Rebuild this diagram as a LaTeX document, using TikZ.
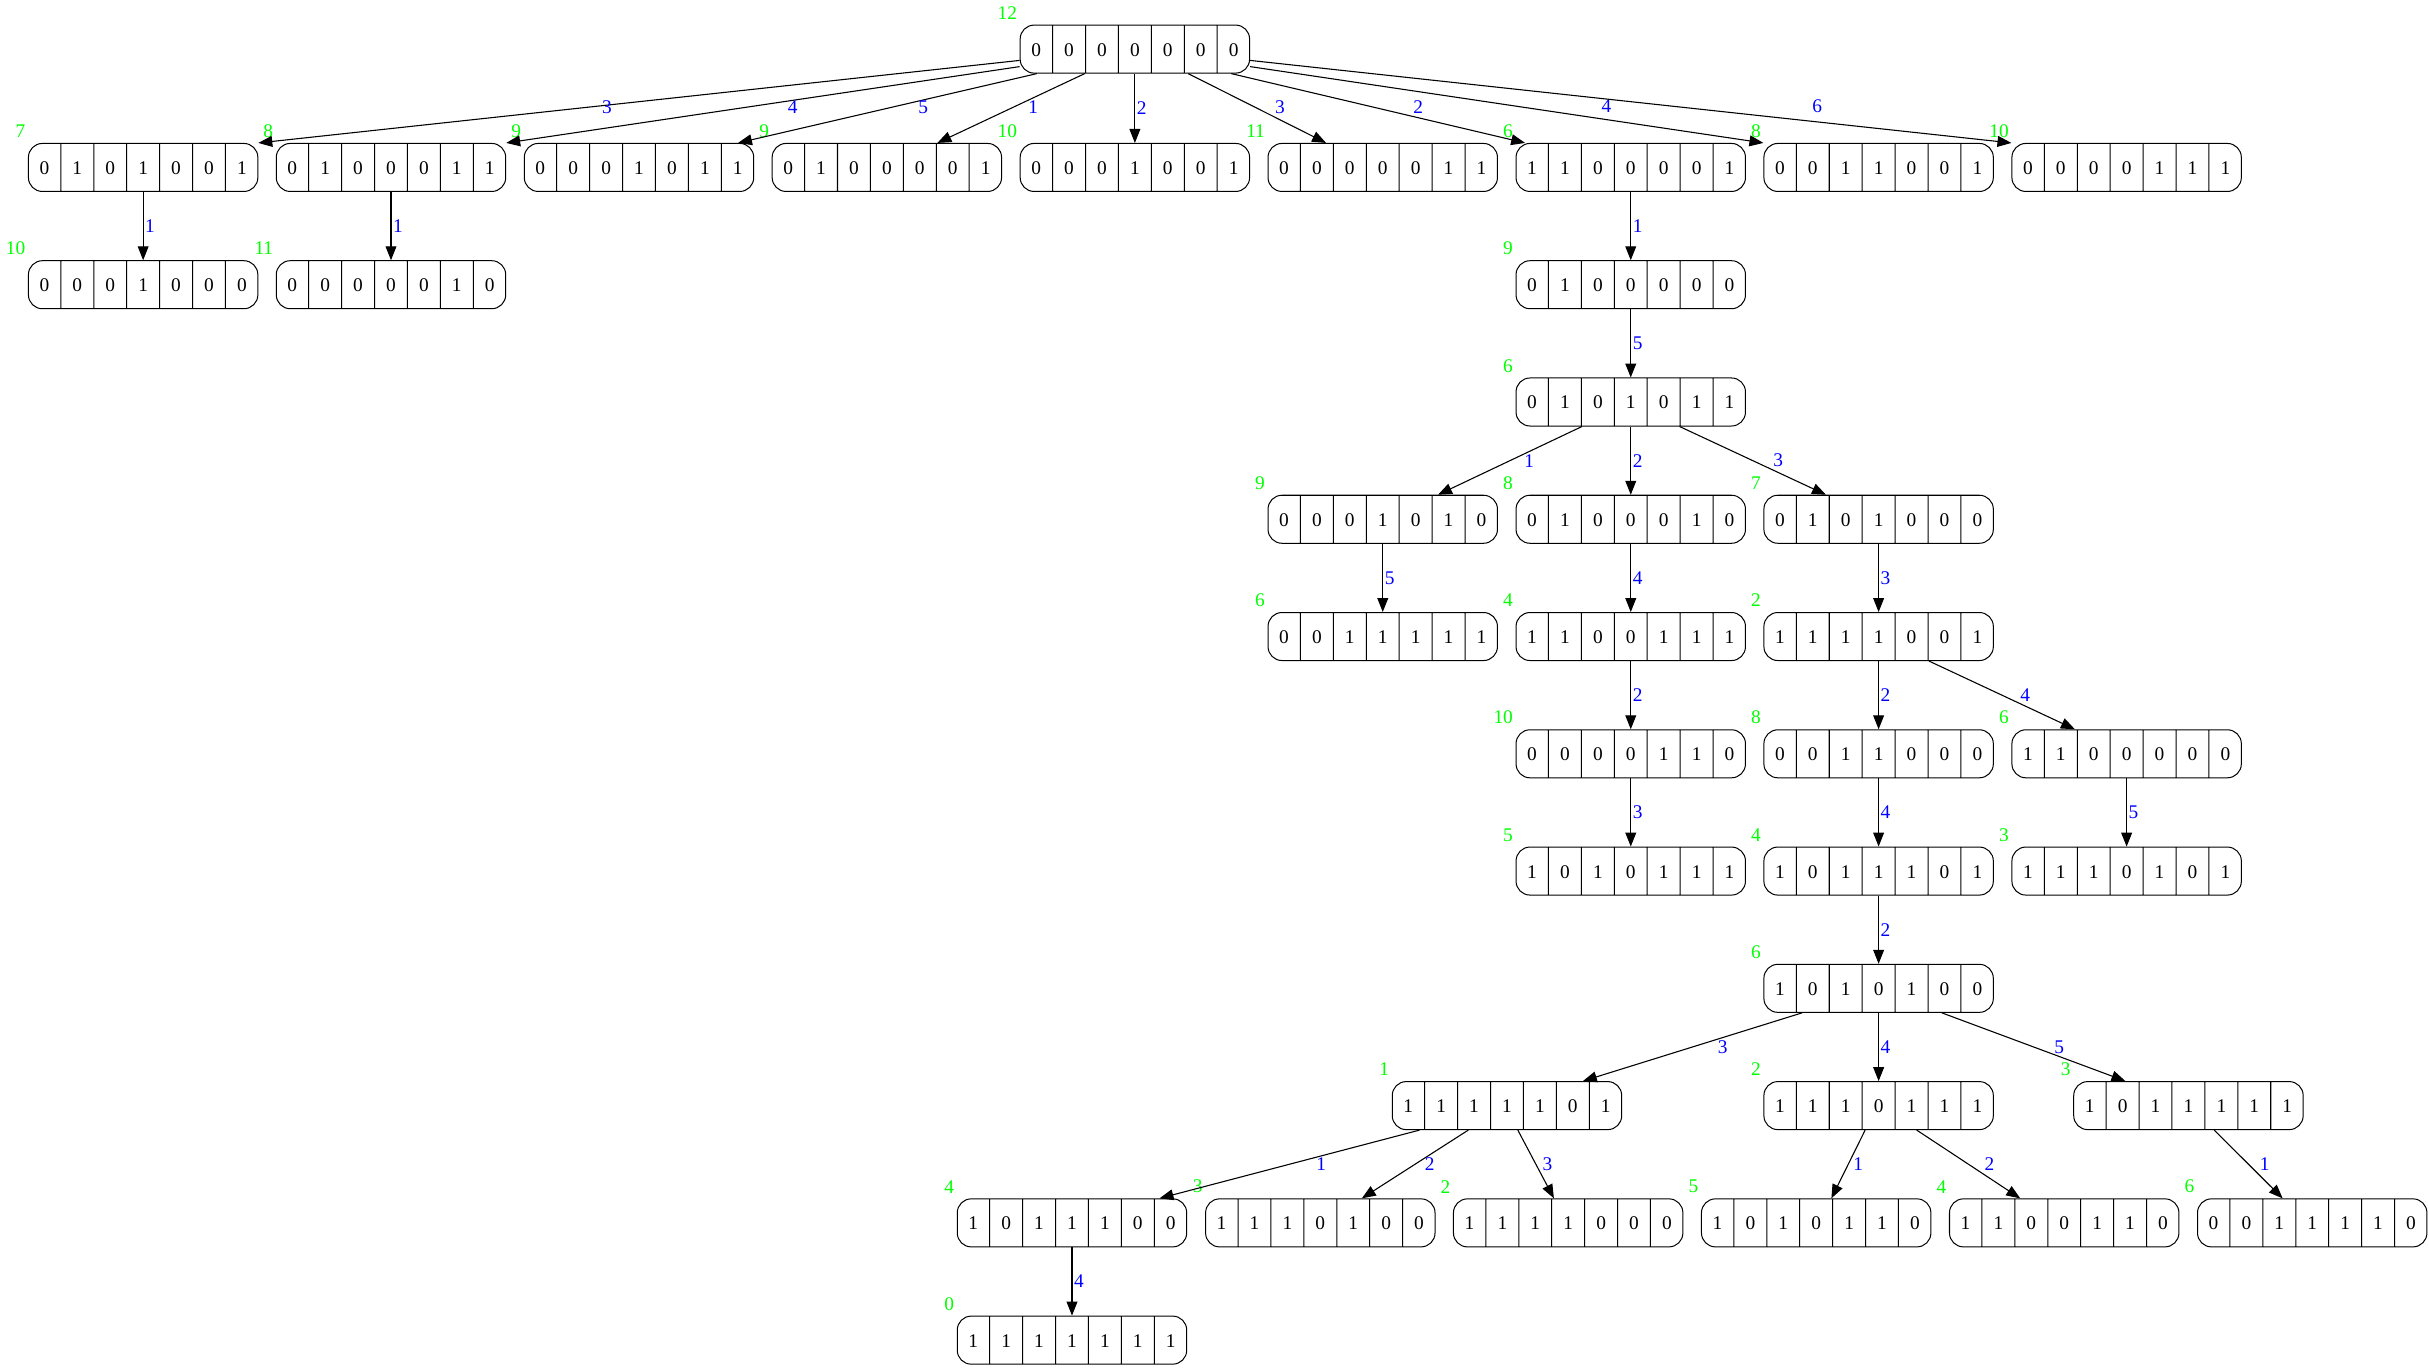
\documentclass[tikz,border=0pt]{standalone}
\usepackage{fontspec}
\setmainfont{Liberation Serif}
\usetikzlibrary{shapes.multipart,arrows.meta}

\newcommand\bitcell[1]{\makebox[20.6pt]{\rule[-11pt]{0pt}{31pt}#1}}
\newcommand\bitrow[7]{\bitcell{#1}\nodepart{two}\bitcell{#2}\nodepart{three}\bitcell{#3}%
  \nodepart{four}\bitcell{#4}\nodepart{five}\bitcell{#5}\nodepart{six}\bitcell{#6}%
  \nodepart{seven}\bitcell{#7}}

\tikzset{
  rec/.style={rectangle split, rectangle split parts=7, rectangle split horizontal,
    draw, rounded corners=9pt, inner sep=0pt, line width=0.65pt,
    font=\fontsize{12.5}{14}\selectfont},
  glab/.style={text=green, font=\fontsize{12.5}{14}\selectfont, inner sep=0pt,
    xshift=-1.5pt, yshift=3.2pt},
  arr/.style={-{Triangle[length=9pt,width=7pt]}, line width=0.7pt},
  elab/.style={text=blue, font=\fontsize{12.5}{14}\selectfont, inner sep=1pt},
  rlab/.style={elab, pos=.5, anchor=west},
}

\begin{document}
\begin{tikzpicture}[x=1pt, y=1pt]
  \useasboundingbox (0,0) rectangle (1568,-885);
  \foreach \n/\x/\y/\w/\g in {
      root/732.6/31.7/0000000/12,
      a1/92.4/108.1/0101001/7, a2/252.4/108.1/0100011/8, a3/412.5/108.1/0001011/9,
      a4/572.5/108.1/0100001/9, a5/732.6/108.1/0001001/10, a6/892.6/108.1/0000011/11,
      a7/1052.7/108.1/1100001/6, a8/1212.7/108.1/0011001/8, a9/1372.8/108.1/0000111/10,
      b1/92.4/183.8/0001000/10, b2/252.4/183.8/0000010/11, b3/1052.7/183.8/0100000/9,
      c1/1052.7/259.5/0101011/6,
      d1/892.6/335.2/0001010/9, d2/1052.7/335.2/0100010/8, d3/1212.7/335.2/0101000/7,
      e1/892.6/410.9/0011111/6, e2/1052.7/410.9/1100111/4, e3/1212.7/410.9/1111001/2,
      f1/1052.7/486.6/0000110/10, f2/1212.7/486.6/0011000/8, f3/1372.8/486.6/1100000/6,
      g1/1052.7/562.3/1010111/5, g2/1212.7/562.3/1011101/4, g3/1372.8/562.3/1110101/3,
      h1/1212.7/638/1010100/6,
      i1/972.8/713.7/1111101/1, i2/1212.7/713.7/1110111/2, i3/1412.7/713.7/1011111/3,
      j1/692/789.4/1011100/4, j2/852.3/789.4/1110100/3, j3/1012.3/789.4/1111000/2,
      j4/1172.4/789.4/1010110/5, j5/1332.5/789.4/1100110/4, j6/1492.6/789.4/0011110/6,
      k1/692/865.1/1111111/0}
    \node[rec, label={[glab]north west:\g}] (\n) at (\x,-\y) {\expandafter\bitrow\w};

  \draw[arr] ([yshift=-7.3pt]root.west) -- (a1.north east) node[elab,pos=.542,yshift=-1pt]{3};
  \draw[arr] ([yshift=-11.3pt]root.west) -- (a2.north east) node[elab,pos=.442,yshift=-4.1pt]{4};
  \draw[arr] ([xshift=-63.3pt]root.south) -- ([xshift=63.9pt]a3.north) node[elab,pos=.38,yshift=-4.5pt]{5};
  \draw[arr] ([xshift=-32.4pt]root.south) -- ([xshift=32.6pt]a4.north) node[elab,pos=.349,yshift=-5.9pt]{1};
  \draw[arr] ([xshift=34.4pt]root.south) -- ([xshift=-36.6pt]a6.north) node[elab,pos=.665,yshift=8.4pt]{3};
  \draw[arr] ([xshift=62.2pt]root.south) -- ([xshift=-68.2pt]a7.north) node[elab,pos=.636,yshift=7pt]{2};
  \draw[arr] ([yshift=-11.3pt]root.east) -- (a8.north west) node[elab,pos=.694,yshift=8.4pt]{4};
  \draw[arr] ([yshift=-7.3pt]root.east) -- (a9.north west) node[elab,pos=.745,yshift=9.9pt]{6};

  \foreach \p/\c/\l in {root/a5/2, a1/b1/1, a2/b2/1, a7/b3/1, b3/c1/5, c1/d2/2,
      d1/e1/5, d2/e2/4, d3/e3/3, e2/f1/2, e3/f2/2, f1/g1/3, f2/g2/4, f3/g3/5,
      g2/h1/2, h1/i2/4, j1/k1/4}
    \draw[arr] (\p.south) -- (\c.north) node[rlab]{\l};

  \foreach \p/\c/\s/\t/\l/\d in {c1/d1/-31.5/35.7/1/8, c1/d3/31.5/-34/3/12,
      e3/f3/32.5/-33.4/4/10.5, h1/i1/-49.4/49/3/15, h1/i3/40.8/-40.7/5/12,
      i1/j1/-56.5/56.5/1/16, i1/j2/-25/26.8/2/5, i1/j3/7/-9.2/3/3,
      i2/j4/-8.7/9.8/1/2, i2/j5/24.6/-28.4/2/9, i3/j6/16.7/-19.1/1/6}
    \draw[arr] ([xshift=\s]\p.south) -- ([xshift=\t]\c.north) node[rlab,xshift=\d]{\l};
\end{tikzpicture}
\end{document}
